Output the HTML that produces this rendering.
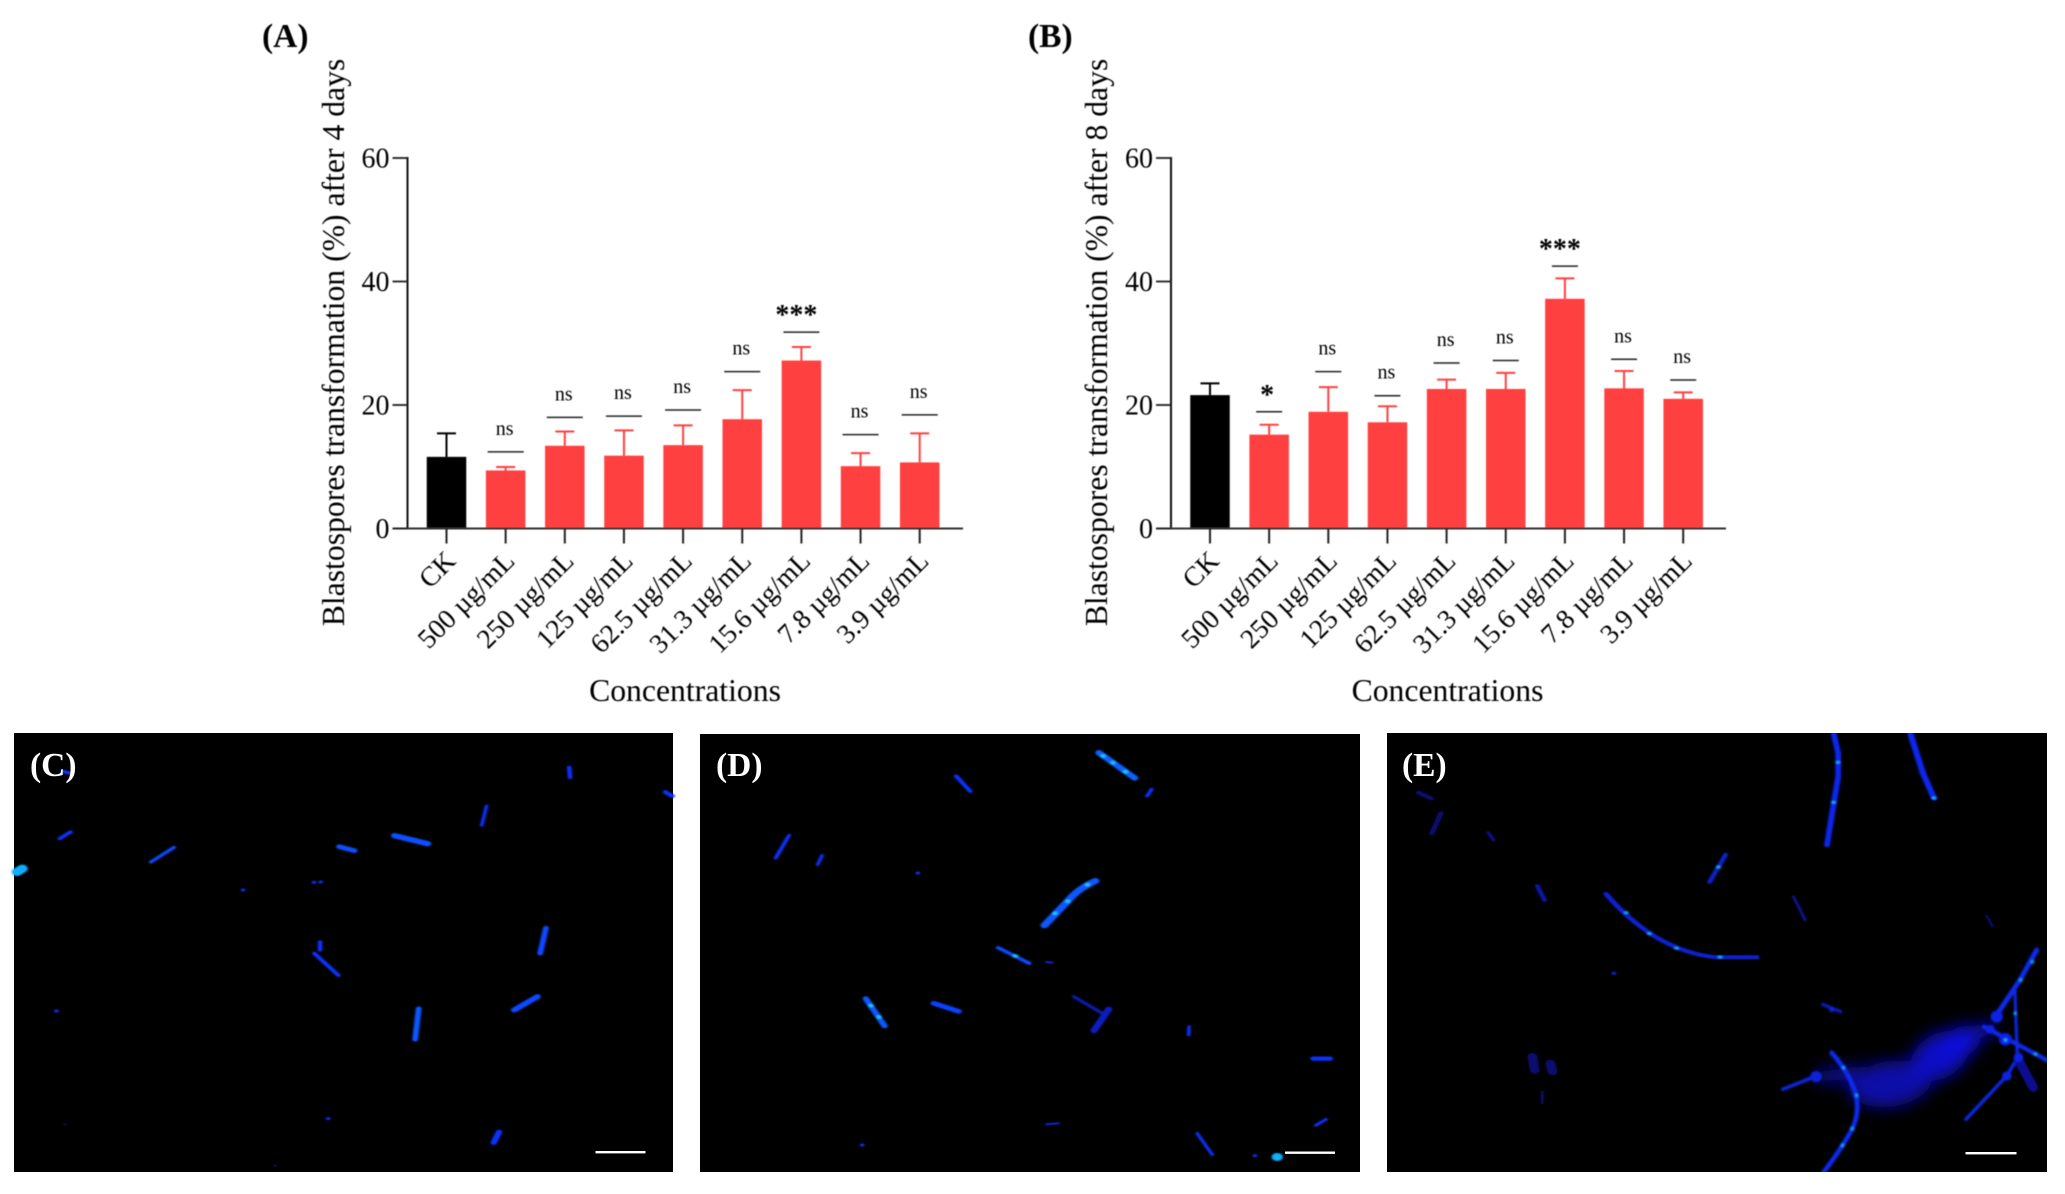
<!DOCTYPE html>
<html lang="en">
<head>
<meta charset="utf-8">
<title>Blastospores transformation</title>
<style>
html,body{margin:0;padding:0;background:#fff;}
svg{display:block;}
text{font-family:"Liberation Serif",serif;fill:#000;}
</style>
</head>
<body>
<svg id="figure" xmlns="http://www.w3.org/2000/svg" width="2065" height="1194" viewBox="0 0 2065 1194">
<defs>
<filter id="soft" x="-30%" y="-30%" width="160%" height="160%"><feGaussianBlur stdDeviation="2.4"/></filter>
<filter id="soft3" filterUnits="userSpaceOnUse" x="-50" y="-200" width="1000" height="900"><feGaussianBlur stdDeviation="3"/></filter>
<filter id="wide" filterUnits="userSpaceOnUse" x="-50" y="-100" width="1000" height="800"><feGaussianBlur stdDeviation="24"/></filter>
<filter id="ink" x="-2%" y="-2%" width="104%" height="104%"><feGaussianBlur stdDeviation="0.45"/></filter>
</defs>
<g id="charts" filter="url(#ink)"></g>

<!-- Panel C -->
<g>
<rect x="14" y="733" width="659" height="439" fill="#000"/>
<g transform="translate(0,720) scale(0.4464,0.3333)" fill="none" stroke="#0a30ff" stroke-linecap="round" filter="url(#soft)">
<path d="M140 154L158 160" stroke-width="10"/>
<path d="M1275 142L1277 172" stroke-width="10"/>
<path d="M1490 216L1506 228" stroke-width="11"/>
<path d="M1090 258L1079 316" stroke-width="8"/>
<path d="M134 356L158 336" stroke-width="10"/>
<path d="M338 426L390 382" stroke-width="9" stroke="#0a48ff"/>
<path d="M884 347L958 371" stroke-width="16" stroke="#0a50ff"/>
<path d="M760 380L794 392" stroke-width="14" stroke="#0a50ff"/>
<path d="M38 456L50 446" stroke-width="24" stroke="#10b0ff"/>
<path d="M703 487h1M718 486h1M544 510h1M126 873h1M735 1196h1" stroke-width="9"/>
<path d="M616 1337h1M145 1213h1" stroke-width="5" stroke="#0a20b0"/>
<path d="M717 666L717 690" stroke-width="10"/>
<path d="M704 700L758 766" stroke-width="10"/>
<path d="M1223 624L1210 700" stroke-width="13" stroke="#0a48ff"/>
<path d="M1152 870L1204 830" stroke-width="15" stroke="#0a48ff"/>
<path d="M938 866L930 958" stroke-width="13" stroke="#0a58ff"/>
<path d="M1118 1236L1106 1268" stroke-width="14"/>
</g>
<rect x="595.5" y="1151" width="50" height="2.4" fill="#fff"/>
<text x="30" y="776" font-size="33.5" font-weight="bold" style="fill:#fff">(C)</text>
</g>

<!-- Panel D -->
<g>
<rect x="700" y="734" width="660" height="438" fill="#000"/>
<g transform="translate(690,720) scale(0.4464,0.3333)" fill="none" stroke="#0a30ff" stroke-linecap="round" filter="url(#soft)">
<path d="M916 98L996 174" stroke-width="16" stroke="#0a60ff"/>
<path d="M596 168L628 214" stroke-width="10"/>
<path d="M1034 208L1024 228" stroke-width="9"/>
<path d="M222 346L192 414" stroke-width="9"/>
<path d="M296 406L286 434" stroke-width="8"/>
<path d="M510 459h1M385 1275h1M1265 1307h1" stroke-width="9"/>
<path d="M908 483Q870 505 845 545Q820 580 794 616" stroke-width="18" stroke="#0a58ff"/>
<path d="M690 683L760 730" stroke-width="10" stroke="#0a48ff"/>
<path d="M798 726L812 728" stroke-width="5"/>
<path d="M394 836L436 918" stroke-width="14" stroke="#0a58ff"/>
<path d="M546 850L602 874" stroke-width="14" stroke="#0a40ff"/>
<path d="M860 830L930 885" stroke-width="9" stroke="#0a1aa8"/>
<path d="M938 868L905 932" stroke-width="16" stroke="#0a1cc0"/>
<path d="M1118 920L1117 945" stroke-width="8"/>
<path d="M1396 1016L1434 1016" stroke-width="13"/>
<path d="M1425 1198L1402 1216" stroke-width="8"/>
<path d="M798 1213L826 1210" stroke-width="5"/>
<path d="M1136 1240L1170 1304" stroke-width="8"/>
<path d="M1315 1311h1" stroke-width="24" stroke="#10b0ff"/>
<path d="M925 108h1M947 128h1M975 155h1M890 494h1M846 544h1M817 580h1M728 708h1M405 857h1M423 891h1" stroke-width="11" stroke="#20c0ff"/>
</g>
<rect x="1285" y="1151.5" width="50" height="2.4" fill="#fff"/>
<text x="716" y="776" font-size="33.5" font-weight="bold" style="fill:#fff">(D)</text>
</g>

<!-- Panel E -->
<g>
<rect x="1387" y="733" width="660" height="439" fill="#000"/>
<clipPath id="clip-e"><rect x="1387" y="733" width="660" height="439"/></clipPath>
<g clip-path="url(#clip-e)">
<g transform="translate(1365,720) scale(0.4464,0.3333)" fill="none" stroke="#0a28f0" stroke-linecap="round">
<g filter="url(#soft)">
<path d="M1050 42L1060 100L1060 170L1050 250L1035 375" stroke-width="13"/>
<path d="M1222 42L1250 160L1275 235" stroke-width="14"/>
<path d="M808 404L772 486" stroke-width="11" stroke="#0a20c8"/>
<path d="M386 498L402 540" stroke-width="11" stroke="#0a18a8"/>
<path d="M276 338L288 360" stroke-width="8" stroke="#0a1090"/>
<path d="M120 218L148 235M170 280L150 340" stroke-width="12" stroke="#0a0a70"/>
<path d="M540 522Q590 600 650 650Q720 705 790 712L878 712" stroke-width="12" stroke="#0a20d0"/>
<path d="M960 530L986 600" stroke-width="7" stroke="#0a1490"/>
<path d="M1392 586L1406 620" stroke-width="5" stroke="#0a1080"/>
<path d="M557 760h1" stroke-width="9"/>
<path d="M375 1010L380 1050M415 1030L420 1055" stroke-width="22" stroke="#0a0a70"/>
<path d="M397 1115L397 1150" stroke-width="6" stroke="#0a0a70"/>
<path d="M1059 127h1M1049 247h1M1274 234h1M791 441h1M585 578h1M636 641h1M697 685h1M795 711h1" stroke-width="9" stroke="#18a0ff"/>
</g>
</g>
<g transform="translate(1780,980) scale(0.3333)" fill="none" stroke="#0a2cf0" stroke-linecap="round">
<g filter="url(#wide)">
<ellipse cx="330" cy="312" rx="125" ry="68" transform="rotate(-8 330 312)" fill="#0808a8" stroke="none"/>
<ellipse cx="480" cy="228" rx="95" ry="66" transform="rotate(-32 480 228)" fill="#0808c4" stroke="none"/>
<ellipse cx="545" cy="185" rx="60" ry="44" transform="rotate(-30 545 185)" fill="#0a0ae0" stroke="none"/>
<path d="M130 288L230 280" stroke="#0808a8" stroke-width="40"/>
<path d="M580 165L625 145" stroke="#0808c4" stroke-width="40"/>
</g>
<g filter="url(#soft3)">
<path d="M128 73L182 95" stroke-width="9" stroke="#0a20d8"/>
<path d="M155 88h1" stroke-width="16" stroke="#0a20e0"/>
<path d="M8 328L92 295" stroke-width="10"/>
<path d="M108 290h1" stroke-width="34" stroke="#0a20d8"/>
<path d="M155 218Q210 280 228 345Q240 400 215 450Q185 505 130 578" stroke-width="14"/>
<path d="M770 -90L720 0L650 105" stroke-width="15"/>
<path d="M705 30L707 100L712 230" stroke-width="9"/>
<path d="M612 140L804 242" stroke-width="13"/>
<path d="M712 235L680 288L558 418" stroke-width="10"/>
<path d="M715 240L760 322" stroke-width="28" stroke="#0a0a90"/>
<path d="M650 110h1" stroke-width="36" stroke="#0a24e8"/>
<path d="M630 148h1" stroke-width="26" stroke="#0a24e8"/>
<path d="M676 178h1" stroke-width="38" stroke="#0a24e8"/>
<path d="M715 232h1" stroke-width="28" stroke="#0a24e8"/>
<path d="M680 288h1" stroke-width="28" stroke="#0a24e8"/>
<path d="M190 263h1M230 346h1M216 446h1M187 496h1M757 -54h1M722 0h1M705 100h1M766 222h1M676 180h1" stroke-width="9" stroke="#18b0ff"/>
</g>
</g>
</g>
<rect x="1965.5" y="1152" width="51" height="2.4" fill="#fff"/>
<text x="1402" y="776" font-size="33.5" font-weight="bold" style="fill:#fff">(E)</text>
</g>
</svg>

<script>
// ----- chart data -----
const categories = ["CK", "500 µg/mL", "250 µg/mL", "125 µg/mL", "62.5 µg/mL", "31.3 µg/mL", "15.6 µg/mL", "7.8 µg/mL", "3.9 µg/mL"];
const yTickValues = [0, 20, 40, 60];
const day4Means = [11.6, 9.4, 13.4, 11.8, 13.5, 17.7, 27.2, 10.1, 10.7];
const day4ErrorTops = [15.4, 9.95, 15.7, 15.9, 16.7, 22.4, 29.4, 12.2, 15.4];
const day4BracketLevels = [null, 12.4, 18.0, 18.2, 19.2, 25.4, 31.8, 15.2, 18.4];
const day4Significance = ["", "ns", "ns", "ns", "ns", "ns", "***", "ns", "ns"];
const day8Means = [21.6, 15.2, 18.9, 17.2, 22.6, 22.6, 37.2, 22.7, 21.0];
const day8ErrorTops = [23.5, 16.8, 22.9, 19.8, 24.1, 25.2, 40.5, 25.5, 22.05];
const day8BracketLevels = [null, 18.9, 25.4, 21.5, 26.8, 27.2, 42.5, 27.4, 24.05];
const day8Significance = ["", "*", "ns", "ns", "ns", "ns", "***", "ns", "ns"];

const SVGNS = "http://www.w3.org/2000/svg";
const chartsRoot = document.getElementById("charts");
const AXIS_MAX = 60;
const Y0 = 528.5;
const Y_TOP = 158;
const BAR_STEP = 59.15;
const BAR_W = 39.5;

function yScale(v) { return Y0 - (v / AXIS_MAX) * (Y0 - Y_TOP); }

function make(parent, tag, attrs, text) {
  const el = document.createElementNS(SVGNS, tag);
  for (const k in attrs) el.setAttribute(k, attrs[k]);
  if (text !== undefined) el.textContent = text;
  parent.appendChild(el);
  return el;
}

function drawPanel(p, means, errorTops, brackets, significance) {
  function xScale(i) { return p.firstBarX + i * BAR_STEP; }

  const g = make(chartsRoot, "g", {});
  
  

  const label = make(g, "text", { x: p.labelX, y: 47, "font-size": 33.5, "font-weight": "bold" }, p.label);
  
  

  const ytitle = make(g, "text", {
    transform: "translate(" + p.titleX + "," + 342.5 + ") rotate(-90)",
    "text-anchor": "middle", "font-size": 31.7
  }, p.yTitle);
  
  

  const xtitle = make(g, "text", { x: p.xTitleX, y: 701, "text-anchor": "middle", "font-size": 31.7 }, "Concentrations");
  
  

  // bars and error bars
  means.forEach(function (m, i) {
    const cx = xScale(i);
    const color = i === 0 ? "#000000" : "#ff4040";
    const err = make(g, "path", {
      d: "M" + cx + " " + yScale(m) + "V" + yScale(errorTops[i]) + "M" + (cx - 9.5) + " " + yScale(errorTops[i]) + "H" + (cx + 9.5),
      stroke: color, "stroke-width": 2, fill: "none"
    });
    
    
    const bar = make(g, "rect", { x: cx - BAR_W / 2, y: yScale(m), width: BAR_W, height: Y0 - yScale(m), fill: color });
    
    
  });

  // axes
  const yAxis = make(g, "line", { x1: p.axisX, x2: p.axisX, y1: Y_TOP - 1, y2: Y0 + 1, stroke: "#111", "stroke-width": 2 });
  
  
  const xAxis = make(g, "line", { x1: p.axisX - 15, x2: p.axisEnd, y1: Y0, y2: Y0, stroke: "#333", "stroke-width": 2 });
  
  

  yTickValues.forEach(function (t) {
    const y = yScale(t);
    const tick = make(g, "line", { x1: p.axisX - 15, x2: p.axisX, y1: y, y2: y, stroke: "#222", "stroke-width": 1.8 });
    
    
    const tl = make(g, "text", { x: p.axisX - 18, y: y + 9.5, "text-anchor": "end", "font-size": 28 }, String(t));
    
    
  });

  categories.forEach(function (c, i) {
    const cx = xScale(i);
    const tick = make(g, "line", { x1: cx, x2: cx, y1: Y0, y2: Y0 + 15, stroke: "#222", "stroke-width": 2 });
    
    
    const tl = make(g, "text", {
      transform: "translate(" + (cx + 10.5) + "," + (Y0 + 34) + ") rotate(-45)",
      "text-anchor": "end", "font-size": 27.5
    }, c);
    
    
  });

  // significance brackets and labels
  significance.forEach(function (s, i) {
    if (!s) return;
    const cx = xScale(i);
    const y = yScale(brackets[i]);
    const line = make(g, "line", { x1: cx - p.bracketHalf, x2: cx + p.bracketHalf, y1: y, y2: y, stroke: "#222", "stroke-width": 1.5 });
    
    
    const isStar = s.indexOf("*") >= 0;
    const lab = make(g, "text", {
      x: isStar ? cx - (s.length > 1 ? 5 : 2) : cx - 1,
      y: isStar ? y - 8 : y - 17,
      "text-anchor": "middle",
      "font-size": isStar ? 28 : 20,
      "font-weight": isStar ? "bold" : "normal"
    }, s);
    
    
  });
}

drawPanel({
  name: "chart-a-4-days", label: "(A)", labelX: 262, titleX: 344,
  yTitle: "Blastospores transformation (%) after 4 days",
  xTitleX: 685, axisX: 407.5, axisEnd: 963, firstBarX: 446.5, bracketHalf: 18
}, day4Means, day4ErrorTops, day4BracketLevels, day4Significance);

drawPanel({
  name: "chart-b-8-days", label: "(B)", labelX: 1028, titleX: 1107,
  yTitle: "Blastospores transformation (%) after 8 days",
  xTitleX: 1447.5, axisX: 1171, axisEnd: 1726, firstBarX: 1210, bracketHalf: 13
}, day8Means, day8ErrorTops, day8BracketLevels, day8Significance);
</script>
</body>
</html>
